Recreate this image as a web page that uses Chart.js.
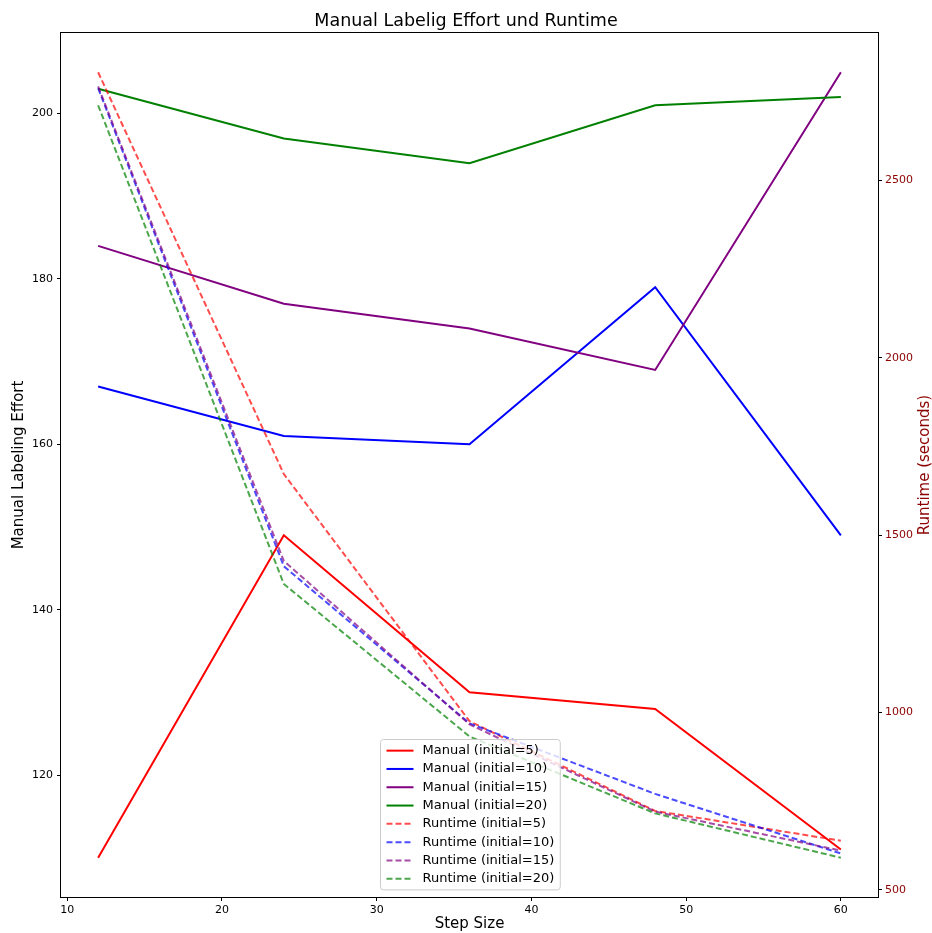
<!DOCTYPE html>
<html>
<head>
<meta charset="utf-8">
<title>Manual Labelig Effort und Runtime</title>
<script src="https://cdn.jsdelivr.net/npm/chart.js@4.4.1/dist/chart.umd.min.js"></script>
<style>
    html, body { margin: 0; padding: 0; background: #fff; }
    canvas { display: block; }
</style>
</head>
<body>
<canvas id="effortChart" width="932" height="933"></canvas>
<script>
// データ
var stepSizes = [12, 24, 36, 48, 60];
var manual5 = [110, 149, 130, 128, 111];
var manual10 = [167, 161, 160, 179, 149];
var manual15 = [184, 177, 174, 169, 205];
var manual20 = [203, 197, 194, 201, 202];
var runtime5 = [2805, 1672, 975, 722, 638];
var runtime10 = [2760, 1412, 969, 770, 602];
var runtime15 = [2765, 1427, 966, 720, 610];
var runtime20 = [2712, 1362, 932, 715, 590];
var initials = [5, 10, 15, 20];
var xTicks = [10, 20, 30, 40, 50, 60];
var effortTicks = [120, 140, 160, 180, 200];
var runtimeTicks = [500, 1000, 1500, 2000, 2500];

var FONT = 'DejaVu Sans';
var colors = ['rgb(255,0,0)', 'rgb(0,0,255)', 'rgb(128,0,128)', 'rgb(0,128,0)'];
var fadedColors = ['rgba(255,0,0,0.7)', 'rgba(0,0,255,0.7)', 'rgba(128,0,128,0.7)', 'rgba(0,128,0,0.7)'];

function toPoints(values) {
    return stepSizes.map(function (x, i) { return { x: x, y: values[i] }; });
}

// matplotlib風の5%マージン
function padded(arrays) {
    var all = [].concat.apply([], arrays);
    var lo = Math.min.apply(null, all), hi = Math.max.apply(null, all);
    var m = (hi - lo) * 0.05;
    return { min: lo - m, max: hi + m };
}

var manualSets = [manual5, manual10, manual15, manual20];
var runtimeSets = [runtime5, runtime10, runtime15, runtime20];
var xRange = padded([stepSizes]);
var effortRange = padded(manualSets);
var runtimeRange = padded(runtimeSets);

var datasets = [];
manualSets.forEach(function (values, i) {
    datasets.push({
        label: 'Manual (initial=' + initials[i] + ')',
        data: toPoints(values),
        yAxisID: 'y',
        borderColor: colors[i],
        borderWidth: 2,
        pointRadius: 0
    });
});
runtimeSets.forEach(function (values, i) {
    datasets.push({
        label: 'Runtime (initial=' + initials[i] + ')',
        data: toPoints(values),
        yAxisID: 'y1',
        borderColor: fadedColors[i],
        borderWidth: 2,
        borderDash: [6, 3],
        pointRadius: 0
    });
});
// 後のデータセットほど上に描く
datasets.forEach(function (ds, i) { ds.order = datasets.length - i; });

function fixedTicks(list) {
    return function (scale) {
        scale.ticks = list.map(function (v) { return { value: v }; });
    };
}

// 枠線・凡例・右軸タイトル
var decorPlugin = {
    id: 'decor',
    afterDatasetsDraw: function (chart) {
        var a = chart.chartArea, ctx = chart.ctx;
        ctx.save();
        ctx.strokeStyle = '#000';
        ctx.lineWidth = 1;
        ctx.strokeRect(Math.round(a.left) - 0.5, Math.round(a.top) - 0.5,
            Math.round(a.right - a.left) + 1, Math.round(a.bottom - a.top) + 1);
        ctx.restore();
    },
    afterDraw: function (chart) {
        var a = chart.chartArea, ctx = chart.ctx;
        var items = chart.data.datasets;
        ctx.save();
        ctx.font = '13px "' + FONT + '"';
        var textW = 0;
        items.forEach(function (ds) { textW = Math.max(textW, ctx.measureText(ds.label).width); });
        var rowH = 18.3;
        var w = 6 + 27 + 9 + textW + 6;
        var h = items.length * rowH + 4;
        var cx = (a.left + a.right) / 2;
        var x0 = Math.round(cx - w / 2) + 0.5;
        var y0 = Math.round(a.bottom - 8 - h) + 0.5;
        ctx.beginPath();
        ctx.roundRect(x0, y0, w, h, 3);
        ctx.fillStyle = 'rgba(255,255,255,0.8)';
        ctx.fill();
        ctx.strokeStyle = '#cccccc';
        ctx.lineWidth = 1;
        ctx.stroke();
        ctx.textBaseline = 'middle';
        ctx.textAlign = 'left';
        items.forEach(function (ds, i) {
            var y = y0 + 2 + rowH * (i + 0.5);
            ctx.beginPath();
            ctx.setLineDash(ds.borderDash || []);
            ctx.strokeStyle = ds.borderColor;
            ctx.lineWidth = ds.borderWidth;
            ctx.moveTo(x0 + 6, y);
            ctx.lineTo(x0 + 33, y);
            ctx.stroke();
            ctx.setLineDash([]);
            ctx.fillStyle = '#000';
            ctx.fillText(ds.label, x0 + 42, y);
        });
        // 右軸タイトル（下から上へ）
        ctx.translate(chart.width - 7, (a.top + a.bottom) / 2);
        ctx.rotate(-Math.PI / 2);
        ctx.textAlign = 'center';
        ctx.fillStyle = '#8b0000';
        ctx.font = '15px "' + FONT + '"';
        ctx.fillText('Runtime (seconds)', 0, 0);
        ctx.restore();
    }
};

var ctx = document.getElementById('effortChart').getContext('2d');
var effortChart = new Chart(ctx, {
    type: 'line',
    data: { datasets: datasets },
    plugins: [decorPlugin],
    options: {
        responsive: false,
        animation: false,
        layout: { padding: 0 },
        elements: { line: { tension: 0 } },
        plugins: {
            legend: { display: false },
            tooltip: { enabled: false },
            title: {
                display: true,
                text: 'Manual Labelig Effort und Runtime',
                color: '#000',
                font: { family: FONT, size: 17.5, weight: 'normal' },
                padding: { top: 11, bottom: 1 }
            }
        },
        scales: {
            x: {
                type: 'linear',
                min: xRange.min,
                max: xRange.max,
                afterBuildTicks: fixedTicks(xTicks),
                afterFit: function (scale) { scale.height = 36; },
                grid: { drawOnChartArea: false, drawTicks: true, tickLength: 4, color: '#000' },
                border: { display: false },
                ticks: {
                    color: '#000', padding: 3, maxRotation: 0,
                    font: { family: FONT, size: 11 },
                    callback: function (v) { return String(v); }
                },
                title: {
                    display: true, text: 'Step Size', color: '#000',
                    font: { family: FONT, size: 15 },
                    padding: { top: 0, bottom: 0 }
                }
            },
            y: {
                position: 'left',
                min: effortRange.min,
                max: effortRange.max,
                afterBuildTicks: fixedTicks(effortTicks),
                afterFit: function (scale) { scale.width = 61; },
                grid: { drawOnChartArea: false, drawTicks: true, tickLength: 4, color: '#000' },
                border: { display: false },
                ticks: {
                    color: '#000', padding: 4,
                    font: { family: FONT, size: 11 },
                    callback: function (v) { return String(v); }
                },
                title: {
                    display: true, text: 'Manual Labeling Effort', color: '#000',
                    font: { family: FONT, size: 15 },
                    padding: { top: 10, bottom: 0 }
                }
            },
            y1: {
                position: 'right',
                min: runtimeRange.min,
                max: runtimeRange.max,
                afterBuildTicks: fixedTicks(runtimeTicks),
                afterFit: function (scale) { scale.width = 54; },
                grid: { drawOnChartArea: false, drawTicks: true, tickLength: 4, color: '#000' },
                border: { display: false },
                ticks: {
                    color: '#8b0000', padding: 3,
                    font: { family: FONT, size: 11 },
                    callback: function (v) { return String(v); }
                }
            }
        }
    }
});
</script>
</body>
</html>
